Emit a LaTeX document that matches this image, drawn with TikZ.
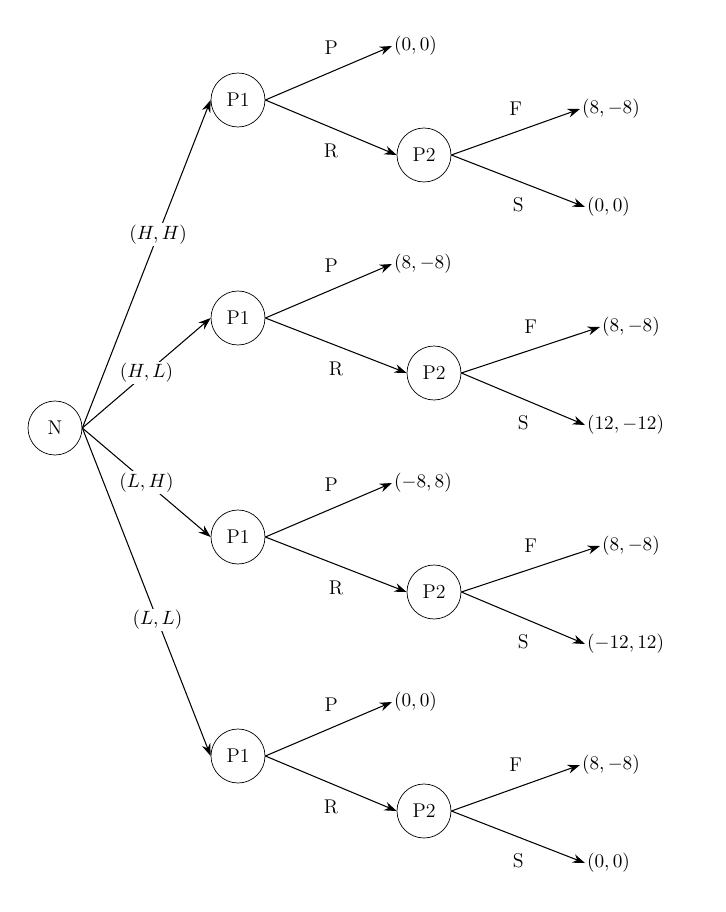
\documentclass[tikz,border=0pt]{standalone}
\usetikzlibrary{arrows.meta}
\begin{document}
\begin{tikzpicture}[x=0.02cm,y=-0.02cm,
  every node/.style={font=\fontsize{11.3}{13}\selectfont},
  st/.style={circle,draw,minimum size=1.08cm,inner sep=0pt},
  ar/.style={-{Stealth[length=7pt,width=5pt]},line width=0.6pt},
  tl/.style={anchor=west,inner sep=1pt},
  el/.style={fill=white,inner sep=1pt}]
\useasboundingbox (0,0) rectangle (725,912);
\node[st] (N) at (55,428) {N};
\foreach \i/\y/\q/\pl/\fx/\fl/\sl in {1/100/424/{$(0,0)$}/580/{$(8,-8)$}/{$(0,0)$},
  2/318/434/{$(8,-8)$}/600/{$(8,-8)$}/{$(12,-12)$},
  3/537/434/{$(-8,8)$}/600/{$(8,-8)$}/{$(-12,12)$},
  4/756/424/{$(0,0)$}/580/{$(8,-8)$}/{$(0,0)$}}{
  \node[st] (A\i) at (238,\y) {P1};
  \node[st] (B\i) at (\q,\y+55) {P2};
  \coordinate (p\i) at (392,\y-54);
  \coordinate (f\i) at (\fx,\y+9);
  \coordinate (s\i) at (585,\y+107);
  \node[tl] (pt\i) at (p\i) {\pl};
  \node[tl] (ft\i) at (f\i) {\fl};
  \node[tl] (stt\i) at (s\i) {\sl};
  \draw[ar] (A\i.east) -- (p\i) node[pos=0.52,above=6pt] {P};
  \draw[ar] (A\i.east) -- (B\i.west) node[pos=0.5,below=6pt] {R};
  \draw[ar] (B\i.east) -- (f\i) node[pos=0.5,above=6pt] {F};
  \draw[ar] (B\i.east) -- (s\i) node[pos=0.5,below=6pt] {S};
}
\draw[ar] (N.east) -- (A1.west) node[el,pos=0.59] {$(H,H)$};
\draw[ar] (N.east) -- (A2.west) node[el,pos=0.5] {$(H,L)$};
\draw[ar] (N.east) -- (A3.west) node[el,pos=0.5] {$(L,H)$};
\draw[ar] (N.east) -- (A4.west) node[el,pos=0.585] {$(L,L)$};
\end{tikzpicture}
\end{document}
